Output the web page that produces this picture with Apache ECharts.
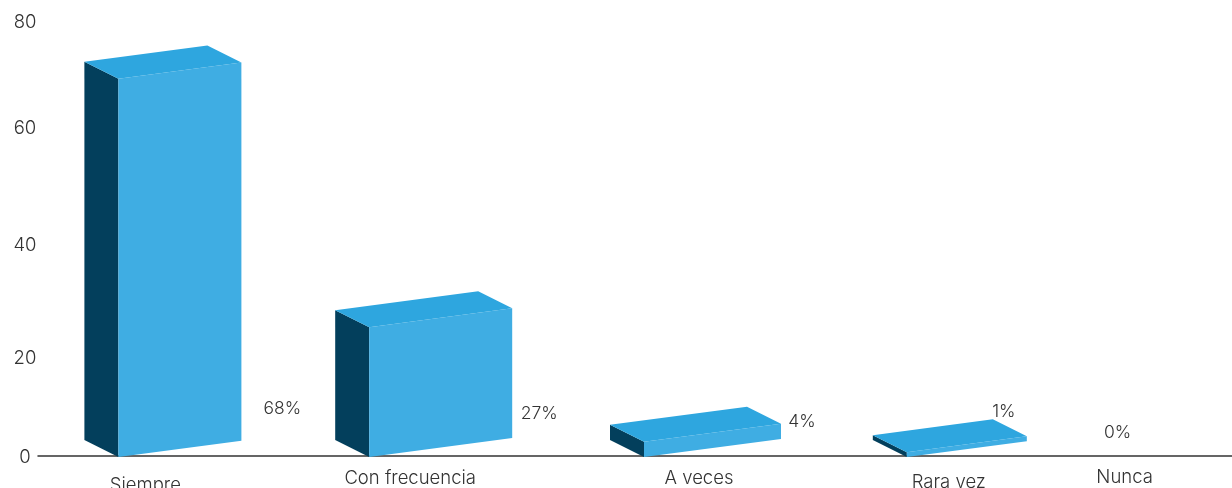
<!DOCTYPE html>
<html><head><meta charset="utf-8">
<style>html,body{margin:0;padding:0;background:#fff;overflow:hidden}#c{width:1232px;height:488px}</style>
<script src="https://cdn.jsdelivr.net/npm/echarts@6/dist/echarts.min.js"></script>
</head><body><div id="c"></div>
<script>
const categories = ['Siempre', 'Con frecuencia', 'A veces', 'Rara vez', 'Nunca'];
const barHeights = [69.4, 23.7, 2.6, 0.7, 0];
const percentLabels = ['68%', '27%', '4%', '1%', '0%'];
const yTicks = [0, 20, 40, 60, 80];

// layout nudges, in pixels relative to each category's band centre and the zero line
const frontCornerShift = [-39, -27, 9, 33, 0];
const frontWidth = [123, 143, 137, 120, 0];
const valueLabelPos = [[125, -47], [143, -42], [167, -34], [130, -44], [5, -23]];
const categoryLabelPos = [[-12, 29], [14, 22], [64, 22], [75, 26], [12, 21]];
const yLabelNudge = { 0: 1, 20: 11, 40: 7, 60: -1, 80: 1 };

const DEPTH_X = 34, DEPTH_Y = 17, SLOPE = 0.132;
const FRONT = '#3fade3', TOP = '#2ea6df', SIDE = '#033f5c', TEXT = '#333333';
const FONT = 'Inter, "Open Sans", sans-serif';

function renderItem(params, api) {
  const i = api.value(0);
  const zero = api.coord([i, 0]);
  const top = api.coord([i, api.value(1)]);
  const x = zero[0] + frontCornerShift[i];
  const y0 = zero[1] + 1, y1 = top[1];
  const w = frontWidth[i], rise = w * SLOPE;
  const children = [];
  if (api.value(1) > 0) {
    children.push(
      { type: 'polygon', shape: { points: [[x - DEPTH_X, y1 - DEPTH_Y], [x, y1], [x, y0], [x - DEPTH_X, y0 - DEPTH_Y]] }, style: { fill: SIDE } },
      { type: 'polygon', shape: { points: [[x, y1], [x + w, y1 - rise], [x + w, y0 - rise], [x, y0]] }, style: { fill: FRONT } },
      { type: 'polygon', shape: { points: [[x - DEPTH_X, y1 - DEPTH_Y], [x + w - DEPTH_X, y1 - rise - DEPTH_Y], [x + w, y1 - rise], [x, y1]] }, style: { fill: TOP } }
    );
  }
  const vp = valueLabelPos[i], cp = categoryLabelPos[i];
  children.push(
    { type: 'text', style: { x: zero[0] + vp[0], y: zero[1] + vp[1], text: percentLabels[i], fill: TEXT, font: '300 17.5px ' + FONT, align: 'center', verticalAlign: 'middle' } },
    { type: 'text', style: { x: zero[0] + cp[0], y: zero[1] + cp[1], text: categories[i], fill: TEXT, font: '300 18.5px ' + FONT, align: 'center', verticalAlign: 'middle' } }
  );
  return { type: 'group', children };
}

const rich = {};
yTicks.forEach(t => {
  const n = yLabelNudge[t];
  rich['t' + t] = { padding: [Math.max(2 * n, 0), 0, Math.max(-2 * n, 0), 0], fontFamily: FONT, fontWeight: 300, fontSize: 18.5, color: TEXT };
});

const chart = echarts.init(document.getElementById('c'), null, { renderer: 'canvas' });
chart.setOption({
  animation: false,
  backgroundColor: '#ffffff',
  grid: { left: 38, right: 0, top: 21, bottom: 32, containLabel: false },
  xAxis: {
    type: 'category', data: categories,
    axisLine: { show: true, lineStyle: { color: '#333333', width: 1.5 } },
    axisTick: { show: false }, axisLabel: { show: false }, splitLine: { show: false }
  },
  yAxis: {
    type: 'value', min: 0, max: 80, interval: 20,
    axisLine: { show: false }, axisTick: { show: false }, splitLine: { show: false },
    axisLabel: { align: 'center', margin: 13, formatter: v => '{t' + v + '|' + v + '}', rich }
  },
  series: [{
    type: 'custom', renderItem, clip: false,
    encode: { x: 0, y: 1 },
    data: categories.map((c, i) => [i, barHeights[i]])
  }]
});
</script></body></html>
